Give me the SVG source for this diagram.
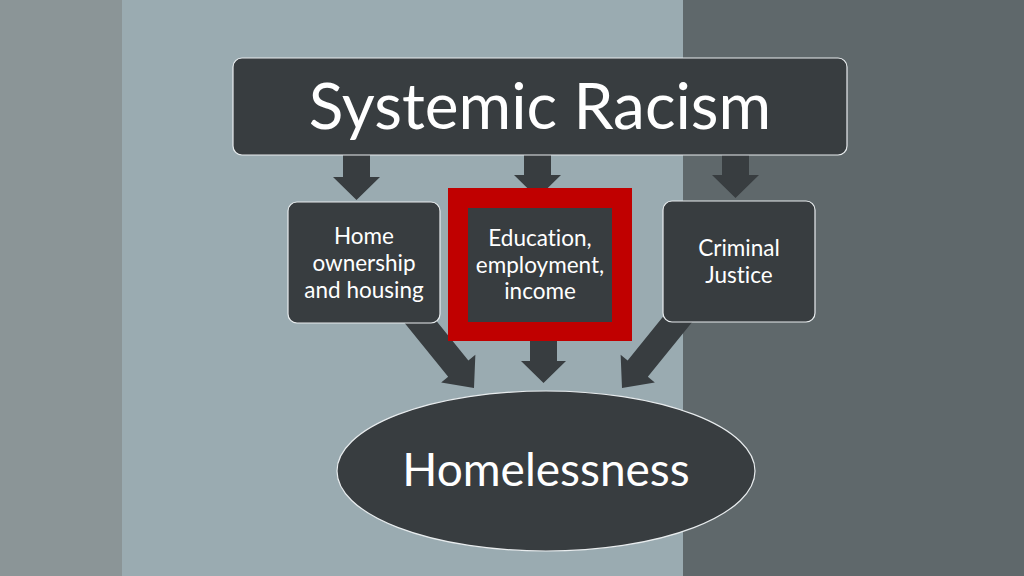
<svg xmlns="http://www.w3.org/2000/svg" width="1024" height="576" viewBox="0 0 1024 576">
  <style>
    .node { fill: #383d40; stroke: #e8ecee; stroke-width: 1.2; }
    .arrow { fill: #383d40; }
    .t { fill: #ffffff; font-family: Lato, "Open Sans", "Liberation Sans", sans-serif; text-anchor: middle; font-variant-ligatures: none; }
    .small { font-size: 22.5px; }
  </style>
  <rect x="0" y="0" width="1024" height="576" fill="#9aabb1"/>
  <rect x="0" y="0" width="122" height="576" fill="#8b9597"/>
  <rect x="683" y="0" width="341" height="576" fill="#5f686b"/>

  <g id="connectors">
    <polygon class="arrow" points="343,150 370,150 370,177 380,177 356.5,200 333,177 343,177"/>
    <polygon class="arrow" points="524,150 551,150 551,175 561,175 537.5,198 514,175 524,175"/>
    <polygon class="arrow" points="722,150 749,150 749,175 759,175 735.5,198 712,175 722,175"/>
    <g transform="translate(474,388) rotate(51)">
      <polygon class="arrow" points="-120,-13 -25,-13 -25,-22 0,0 -25,22 -25,13 -120,13"/>
    </g>
    <g transform="translate(622,388) rotate(129)">
      <polygon class="arrow" points="-120,-13 -25,-13 -25,-22 0,0 -25,22 -25,13 -120,13"/>
    </g>
    <polygon class="arrow" points="530,330 557,330 557,361 566,361 543.5,383 521,361 530,361"/>
  </g>

  <g id="systemic-racism">
    <rect class="node" x="233" y="58" width="614" height="97" rx="9"/>
    <text class="t" x="540" y="129" font-size="64">Systemic Racism</text>
  </g>

  <g id="home-ownership">
    <rect class="node" x="288" y="202" width="152" height="121" rx="9"/>
    <text class="t small" x="364" y="244">Home</text>
    <text class="t small" x="364" y="271">ownership</text>
    <text class="t small" x="364" y="298">and housing</text>
  </g>

  <g id="education">
    <rect x="448" y="188" width="184" height="153" fill="#c00000"/>
    <rect x="468" y="208" width="144" height="114" fill="#383d40"/>
    <text class="t small" x="540" y="246">Education,</text>
    <text class="t small" x="540" y="273">employment,</text>
    <text class="t small" x="540" y="299">income</text>
  </g>

  <g id="criminal-justice">
    <rect class="node" x="663" y="201" width="152" height="121" rx="9"/>
    <text class="t small" x="739" y="256">Criminal</text>
    <text class="t small" x="739" y="283">Justice</text>
  </g>

  <g id="homelessness">
    <ellipse class="node" cx="546" cy="471" rx="209" ry="80"/>
    <text class="t" x="546" y="486" font-size="46">Homelessness</text>
  </g>
</svg>
